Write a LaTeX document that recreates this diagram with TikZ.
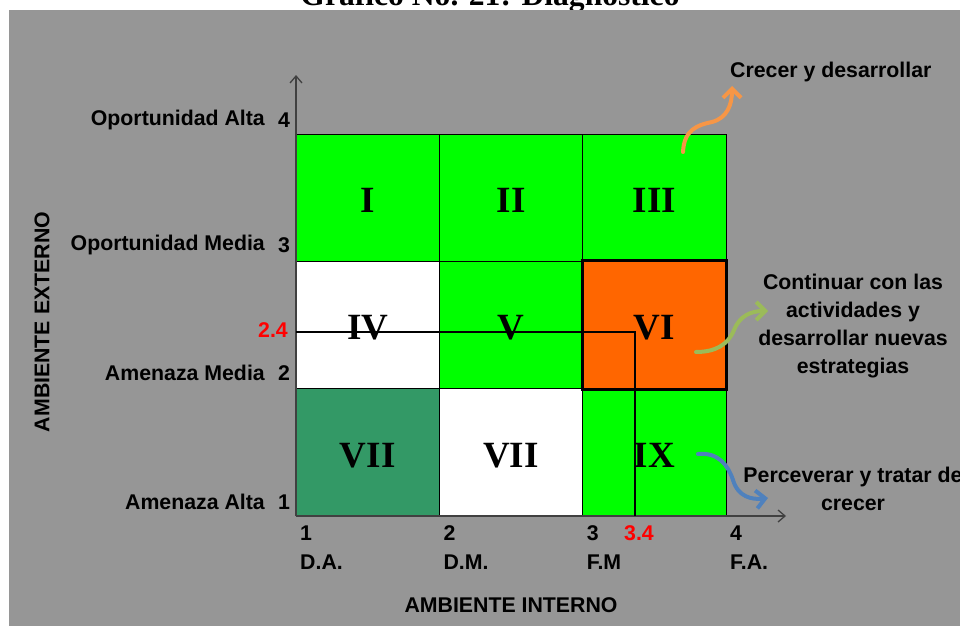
\documentclass[tikz,border=0pt]{standalone}
\usepackage{fontspec}
\setmainfont{Liberation Serif}
\newfontfamily\labfont{Liberation Sans}
\usepackage{xcolor}
\usepackage{tikz}
\usetikzlibrary{arrows.meta}

\definecolor{bggray}{HTML}{969696}
\definecolor{brightgreen}{HTML}{00FF00}
\definecolor{darkgreen}{HTML}{339966}
\definecolor{cellorange}{HTML}{FF6600}
\definecolor{axisgray}{HTML}{404040}
\definecolor{arroworange}{HTML}{F79646}
\definecolor{arrowgreen}{HTML}{9BBB59}
\definecolor{arrowblue}{HTML}{4F81BD}

\tikzset{
  lab/.style={font=\labfont\bfseries\fontsize{21.3}{28}\selectfont, inner sep=0pt},
  redlab/.style={lab, text=red},
  cell/.style={draw=black, line width=1pt, minimum width=143.33pt, minimum height=127.33pt, inner sep=0pt},
  roman/.style={font=\bfseries\fontsize{37}{40}\selectfont, inner sep=0pt, yshift=-3pt},
  axis/.style={draw=axisgray, line width=1.3pt, -{Straight Barb[length=7pt,width=12pt]}},
  curly/.style={line width=4pt, line cap=round, -{Straight Barb[length=9pt,width=18pt]}},
}

\begin{document}
\begin{tikzpicture}[x=1pt,y=-1pt]
\useasboundingbox (0,0) rectangle (960,626);
\node[font=\bfseries\fontsize{31.6}{36}\selectfont, anchor=base, inner sep=0pt] (title) at (490,6) {Gráfico No. 21: Diagnóstico};
\fill[bggray] (9,10) rectangle (960,626);

% cells of the matrix
\foreach \i/\j/\c/\t/\n in {0/0/brightgreen/I/c1, 1/0/brightgreen/II/c2, 2/0/brightgreen/III/c3,
  0/1/white/IV/c4, 1/1/brightgreen/V/c5, 2/1/cellorange/VI/c6,
  0/2/darkgreen/VII/c7, 1/2/white/VII/c8, 2/2/brightgreen/IX/c9}
  \node[cell, fill=\c, label={[roman]center:\t}] (\n) at ({367.67+143.33*\i},{197.67+127.33*\j}) {};

\draw[line width=3pt] (c6.south west) rectangle (c6.north east);

% axes
\coordinate (o) at (296,516);
\coordinate (ytip) at (296,75);
\coordinate (xtip) at (786,516);
\draw[axis] (o) -- (ytip);
\draw[axis] (o) -- (xtip);

% position 3.4 / 2.4
\coordinate (p24) at (296,332);
\coordinate (p34) at (635,516);
\draw[line width=2pt] (p24) -| (p34);

% left scale
\node[lab, anchor=east] (oa) at (265,120) {Oportunidad Alta};
\node[lab] (y4) at (284,120) {4};
\node[lab, anchor=east] (om) at (265,245) {Oportunidad Media};
\node[lab] (y3) at (284,245) {3};
\node[lab, anchor=east] (am) at (265,373) {Amenaza Media};
\node[lab] (y2) at (284,373) {2};
\node[lab, anchor=east] (aa) at (265,502) {Amenaza Alta};
\node[lab] (y1) at (284,502) {1};
\node[redlab, anchor=east] (v24) at (288,330) {2.4};

% bottom scale
\foreach \k/\v/\t in {0/1/D.A., 1/2/D.M., 2/3/F.M, 3/4/F.A.}{
  \node[lab, anchor=west] (x\v) at ({300+143.33*\k},533) {\v};
  \node[lab, anchor=west] (n\v) at ({300+143.33*\k},562) {\t};
}
\node[redlab] (v34) at (639,533) {3.4};

\node[lab] (ai) at (511,605) {AMBIENTE INTERNO};
\node[lab, rotate=90] (ae) at (42,322) {AMBIENTE EXTERNO};

% strategies
\node[lab, anchor=west] (t1) at (730,72) {Crecer y desarrollar};
\node[lab, align=center] (t2) at (853,326) {Continuar con las\\actividades y\\desarrollar nuevas\\estrategias};
\node[lab, align=center] (t3) at (853,488.5) {Perceverar y tratar de\\crecer};

\coordinate (s1) at (683,152);
\coordinate (e1) at (732,86);
\coordinate (s2) at (696,352);
\coordinate (e2) at (768,311);
\coordinate (s3) at (698,454);
\coordinate (e3) at (768,498);
\draw[curly, arroworange] (s1) .. controls (684,130) and (697,125) .. (712,122) .. controls (727,118) and (732,105) .. (e1);
\draw[curly, arrowgreen] (s2) .. controls (715,352) and (728,345) .. (734,330) .. controls (740,315) and (752,311) .. (e2);
\draw[curly, arrowblue] (s3) .. controls (718,452) and (728,465) .. (733,480) .. controls (738,497) and (752,500) .. (e3);
\end{tikzpicture}
\end{document}
